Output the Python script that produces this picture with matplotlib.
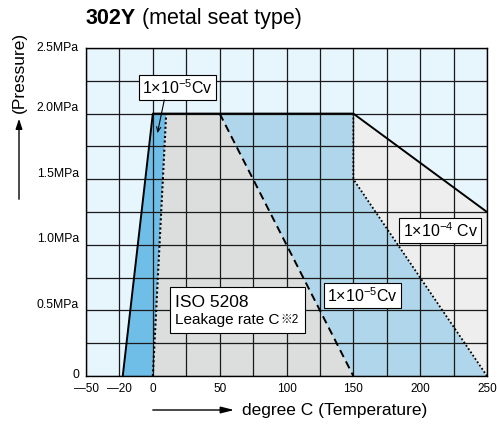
import numpy as np
import matplotlib
matplotlib.use("Agg")
import matplotlib.pyplot as plt
import matplotlib.transforms as mtransforms
from matplotlib.patches import Rectangle, FancyArrowPatch

plt.rcParams['font.family'] = ['Liberation Sans', 'Noto Sans CJK JP', 'DejaVu Sans']
plt.rcParams['mathtext.fontset'] = 'custom'
plt.rcParams['mathtext.rm'] = 'Liberation Sans'
plt.rcParams['mathtext.it'] = 'Liberation Sans'
plt.rcParams['mathtext.default'] = 'regular'

# ---- data ----
solid_x = [-22.5, 0, 150, 250]
solid_y = [0.0, 2.0, 2.0, 1.25]
dotted_left_x = [0, 10]
dotted_left_y = [0.0, 2.0]
dashed_x = [50, 150]
dashed_y = [2.0, 0.0]
dotted_right_x = [150, 150, 250]
dotted_right_y = [2.0, 1.5, 0.0]

x_tick_pos = [-50, -25, 0, 50, 100, 150, 200, 250]
x_tick_labels = ['—50', '—20', '0', '50', '100', '150', '200', '250']
y_tick_pos = [0, 0.5, 1.0, 1.5, 2.0, 2.5]
y_tick_labels = ['0', '0.5MPa', '1.0MPa', '1.5MPa', '2.0MPa', '2.5MPa']

c_bg = '#e7f5fd'
c_mid = '#6fbee7'
c_gray = '#dcdddd'
c_lblue = '#afd6ea'
c_lgray = '#eeeeee'

fig = plt.figure(figsize=(4.97, 4.28), dpi=100)
W, H = 497, 428
ax = fig.add_axes([86 / W, 52 / H, 401 / W, 328 / H])
ax.set_xlim(-50, 250)
ax.set_ylim(0, 2.5)
ax.set_facecolor(c_bg)

# fills
ax.fill(solid_x[:2] + dotted_left_x[::-1], solid_y[:2] + dotted_left_y[::-1],
        color=c_mid, lw=0, zorder=1)
ax.fill(dotted_left_x + dashed_x, dotted_left_y + dashed_y, color=c_gray, lw=0, zorder=1)
ax.fill(dashed_x + [dotted_right_x[-1]] + dotted_right_x[::-1],
        dashed_y + [dotted_right_y[-1]] + dotted_right_y[::-1],
        color=c_lblue, lw=0, zorder=1)
ax.fill(dotted_right_x + [solid_x[-1]], dotted_right_y + [solid_y[-1]],
        color=c_lgray, lw=0, zorder=1)

# boundary lines
ax.plot(solid_x, solid_y, color='black', lw=1.4, zorder=3, solid_capstyle='butt')
ax.plot(dotted_left_x, dotted_left_y, color='black', lw=1.5, ls=(0, (1, 1.2)), zorder=3)
ax.plot(dashed_x, dashed_y, color='black', lw=1.4, ls=(0, (4, 2.5)), zorder=3)
ax.plot(dotted_right_x, dotted_right_y, color='black', lw=1.3, ls=(0, (1, 1.2)), zorder=3)

# grid
ax.set_axisbelow(False)
for gx in np.arange(-50, 251, 25):
    ax.axvline(gx, color='#1a1a1a', lw=0.9, zorder=2.5)
for gy in np.arange(0, 2.51, 0.25):
    ax.axhline(gy, color='#1a1a1a', lw=0.9, zorder=2.5)
ax.set_xticks(x_tick_pos)
ax.set_xticklabels(x_tick_labels, fontsize=8.5)
ax.set_yticks(y_tick_pos)
ax.set_yticklabels(y_tick_labels, fontsize=8.8)
ax.tick_params(which='both', length=0)
ax.tick_params(axis='x', pad=5)
ax.tick_params(axis='y', pad=5)
for sp in ax.spines.values():
    sp.set_color('black')
    sp.set_linewidth(1.0)
    sp.set_zorder(3.5)

offsets = {0: 2, 0.5: 7, 1.0: 7, 1.5: 7, 2.0: 7, 2.5: 1}
for v, lab in zip(y_tick_pos, ax.get_yticklabels()):
    off = mtransforms.ScaledTranslation(0, offsets[v] / 100, fig.dpi_scale_trans)
    lab.set_transform(lab.get_transform() + off)

# annotations
box = dict(boxstyle='square,pad=0.2', fc='white', ec='black', lw=0.8)
ax.text(18.7, 2.20, '1×10$^{-5}$Cv', fontsize=11.5, ha='center', va='center', bbox=box, zorder=5)
ax.annotate('', xy=(3, 1.83), xytext=(9, 2.125),
            arrowprops=dict(arrowstyle='->,head_length=0.35,head_width=0.15', lw=0.8, color='black'),
            zorder=5)
ax.text(215, 1.11, '1×10$^{-4}$ Cv', fontsize=11.5, ha='center', va='center', bbox=box, zorder=5)
ax.text(156.8, 0.614, '1×10$^{-5}$Cv', fontsize=11.5, ha='center', va='center', bbox=box, zorder=5)

ax.add_patch(Rectangle((12.75, 0.328), 101.25, 0.35, fc='white', ec='black', lw=0.8, zorder=5))
ax.text(16.3, 0.56, 'ISO 5208', fontsize=12.5, ha='left', va='center', zorder=6)
t2 = ax.text(16.3, 0.428, 'Leakage rate C', fontsize=11, ha='left', va='center', zorder=6)
ax.annotate('※2', xy=(1, 0.5), xycoords=t2, xytext=(0.8, 0), textcoords='offset points',
            fontsize=8.5, ha='left', va='center', zorder=6)

# title
t1 = fig.text(86 / W, 1 - 24 / H, '302Y', fontsize=15.5, fontweight='bold', ha='left', va='baseline')
ax.annotate('(metal seat type)', xy=(1, 0), xycoords=t1, xytext=(4, 0), textcoords='offset points',
            fontsize=15.5, ha='left', va='bottom', annotation_clip=False)

# axis labels with arrows
fig.text(19 / W, 1 - 72 / H, '(Pressure)', fontsize=12.5, rotation=90, ha='center', va='center')
fig.patches.append(FancyArrowPatch(
    (19 / W, 1 - 202 / H), (19 / W, 1 - 116 / H), transform=fig.transFigure,
    arrowstyle='-|>,head_length=6,head_width=2', lw=1.0, color='black', mutation_scale=1))
fig.patches.append(FancyArrowPatch(
    (150 / W, 1 - 410 / H), (237 / W, 1 - 410 / H), transform=fig.transFigure,
    arrowstyle='-|>,head_length=8,head_width=2', lw=1.0, color='black', mutation_scale=1))
fig.text(242 / W, 1 - 410 / H, 'degree C (Temperature)', fontsize=12.5, ha='left', va='center')

fig.savefig('out.png', dpi=100)
